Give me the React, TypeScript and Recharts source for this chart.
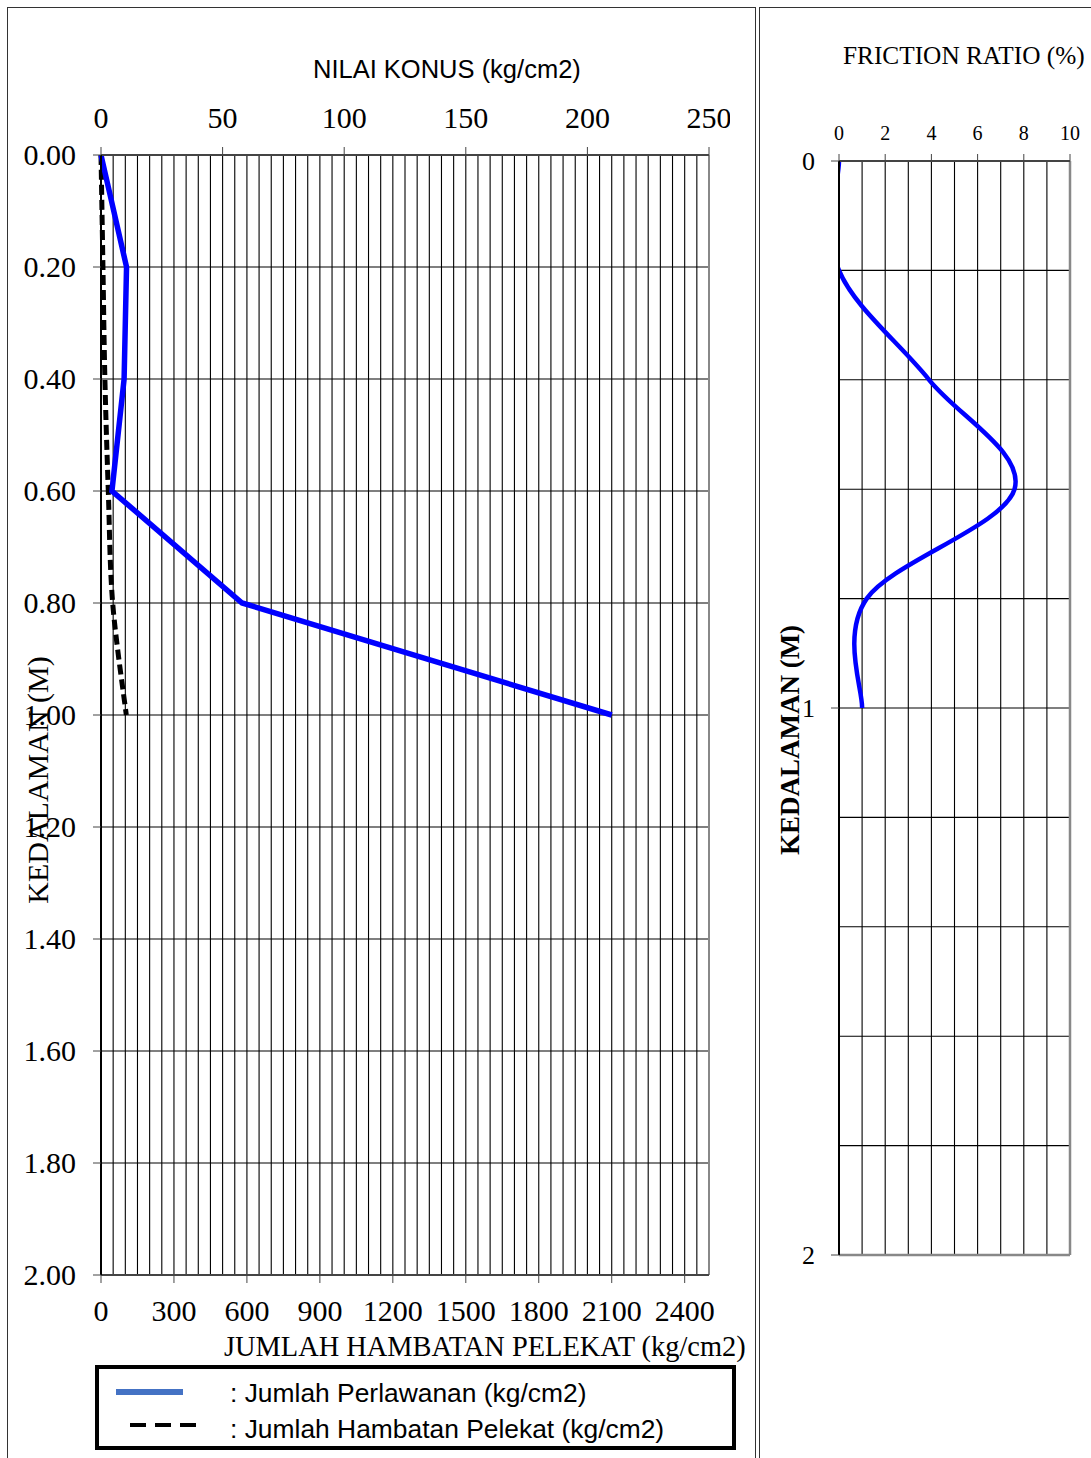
import React from 'react';
import { LineChart, Line, XAxis, YAxis, CartesianGrid, ReferenceLine } from 'recharts';

// sondir readings, every 0.2 m
const depths = [0, 0.2, 0.4, 0.6, 0.8, 1.0];
// nilai konus / jumlah perlawanan (kg/cm2) – top axis
const perlawanan = [0, 10.5, 9.5, 4.5, 58, 210];
// jumlah hambatan pelekat (kg/cm2) – bottom axis
const hambatanPelekat = [0, 8, 16, 30, 48, 104];
// friction ratio (%)
const frictionRatio = [0, 0, 3.9, 7.6, 1.2, 1.0];

// grid columns every 5 kg/cm2, labels every 50
const konusTicks = Array.from({ length: 51 }, (_, i) => i * 5);
const pelekatTicks = [0, 300, 600, 900, 1200, 1500, 1800, 2100, 2400];
const depthTicks = [0, 0.2, 0.4, 0.6, 0.8, 1.0, 1.2, 1.4, 1.6, 1.8, 2.0];
// grid columns every 1 %, labels every 2
const frTicks = [0, 1, 2, 3, 4, 5, 6, 7, 8, 9, 10];

const serif = '"Liberation Serif", "Times New Roman", serif';
const sans = '"Liberation Sans", Arial, sans-serif';

// Catmull-Rom style smoothing (like a spreadsheet "smoothed line")
function smoothCurve(context: any) {
  let pts: [number, number][] = [];
  return {
    areaStart() {},
    areaEnd() {},
    lineStart() {
      pts = [];
    },
    point(x: number, y: number) {
      pts.push([x, y]);
    },
    lineEnd() {
      if (!pts.length) return;
      context.moveTo(pts[0][0], pts[0][1]);
      for (let i = 0; i < pts.length - 1; i++) {
        const p0 = pts[Math.max(i - 1, 0)];
        const p1 = pts[i];
        const p2 = pts[i + 1];
        const p3 = pts[Math.min(i + 2, pts.length - 1)];
        context.bezierCurveTo(
          p1[0] + (p2[0] - p0[0]) / 6,
          p1[1] + (p2[1] - p0[1]) / 6,
          p2[0] - (p3[0] - p1[0]) / 6,
          p2[1] - (p3[1] - p1[1]) / 6,
          p2[0],
          p2[1]
        );
      }
    },
  };
}

type TickOpts = {
  size: number;
  margin: number;
  fontSize: number;
  show?: (v: number) => boolean;
  format?: (v: number) => string;
};

// tick mark + label drawn together so minor grid ticks can stay unlabeled
const makeTick = (side: 'top' | 'bottom' | 'left', o: TickOpts) => (props: any) => {
  const { x, y, payload } = props;
  const v = payload.value as number;
  if (o.show && !o.show(v)) return <g />;
  const label = o.format ? o.format(v) : String(v);
  if (side === 'top') {
    return (
      <g>
        <line x1={x} x2={x} y1={y + o.margin} y2={y + o.margin + o.size} stroke="#444" />
        <text x={x} y={y} textAnchor="middle" fontFamily={serif} fontSize={o.fontSize} fill="#000">{label}</text>
      </g>
    );
  }
  if (side === 'bottom') {
    return (
      <g>
        <line x1={x} x2={x} y1={y - o.margin} y2={y - o.margin - o.size} stroke="#444" />
        <text x={x} y={y} dy="0.72em" textAnchor="middle" fontFamily={serif} fontSize={o.fontSize} fill="#000">{label}</text>
      </g>
    );
  }
  return (
    <g>
      <line x1={x + o.margin} x2={x + o.margin + o.size} y1={y} y2={y} stroke="#444" />
      <text x={x} y={y} dy="0.34em" textAnchor="end" fontFamily={serif} fontSize={o.fontSize} fill="#000">{label}</text>
    </g>
  );
};

const isWhole = (v: number) => Math.abs(v - Math.round(v)) < 1e-6;

const abs = (left: number, top: number, extra: React.CSSProperties = {}): React.CSSProperties => ({
  position: 'absolute',
  left,
  top,
  whiteSpace: 'nowrap',
  lineHeight: 1,
  color: '#000',
  ...extra,
});

export default function App() {
  const rows = depths.map((d, i) => ({
    depth: d,
    perlawanan: perlawanan[i],
    pelekat: hambatanPelekat[i],
    fr: frictionRatio[i],
  }));

  return (
    <div style={{ position: 'absolute', left: 0, top: 0, width: 1091, height: 1458, background: '#fff', overflow: 'hidden' }}>
      {/* table cells */}
      <div style={{ position: 'absolute', left: 7, top: 7, width: 747, height: 1500, borderLeft: '1.5px solid #333', borderTop: '1.5px solid #333', borderRight: '1.5px solid #333' }} />
      <div style={{ position: 'absolute', left: 759, top: 7, width: 400, height: 1500, borderLeft: '1.5px solid #333', borderTop: '1.5px solid #333' }} />

      {/* left panel: cone resistance and total friction */}
      <div style={{ position: 'absolute', left: 0, top: 0 }}>
        <LineChart width={730} height={1340} data={rows} layout="vertical" margin={{ top: 0, right: 21, bottom: 40, left: 0 }}>
          <CartesianGrid xAxisId="konus" stroke="#000" strokeWidth={1.1} />
          <XAxis
            xAxisId="konus"
            orientation="top"
            type="number"
            domain={[0, 250]}
            ticks={konusTicks}
            interval={0}
            height={155}
            tickSize={8}
            tickMargin={19}
            tickLine={false}
            axisLine={{ stroke: '#444', strokeWidth: 2 }}
            tick={makeTick('top', { size: 8, margin: 19, fontSize: 30, show: (v) => v % 50 === 0 })}
          />
          <XAxis
            xAxisId="pelekat"
            orientation="bottom"
            type="number"
            domain={[0, 2500]}
            ticks={pelekatTicks}
            interval={0}
            height={25}
            tickSize={8}
            tickMargin={16}
            tickLine={false}
            axisLine={{ stroke: '#444', strokeWidth: 2 }}
            tick={makeTick('bottom', { size: 8, margin: 16, fontSize: 30 })}
          />
          <YAxis
            type="number"
            dataKey="depth"
            domain={[0, 2]}
            ticks={depthTicks}
            interval={0}
            width={101}
            tickSize={8}
            tickMargin={17}
            tickLine={false}
            axisLine={{ stroke: '#000', strokeWidth: 2 }}
            tick={makeTick('left', { size: 8, margin: 17, fontSize: 30, format: (v) => v.toFixed(2) })}
          />
          <ReferenceLine xAxisId="konus" x={250} stroke="#888" strokeWidth={2} />
          <Line
            xAxisId="pelekat"
            dataKey="pelekat"
            type={smoothCurve as any}
            stroke="#000"
            strokeWidth={5}
            strokeDasharray="10 5"
            dot={false}
            isAnimationActive={false}
          />
          <Line
            xAxisId="konus"
            dataKey="perlawanan"
            type="linear"
            stroke="#0000ff"
            strokeWidth={5.5}
            dot={false}
            isAnimationActive={false}
          />
        </LineChart>
      </div>

      <div style={abs(313, 57, { fontFamily: sans, fontSize: 25.5 })}>NILAI KONUS (kg/cm2)</div>
      <div style={abs(224, 1333, { fontFamily: serif, fontSize: 28.4 })}>JUMLAH HAMBATAN PELEKAT (kg/cm2)</div>
      <div style={abs(38, 780, { fontFamily: serif, fontSize: 30, transform: 'translate(-50%, -50%) rotate(-90deg)' })}>
        KEDALAMAN (M)
      </div>

      {/* legend box */}
      <div style={{ position: 'absolute', left: 95, top: 1365, width: 641, height: 85, border: '4px solid #000', boxSizing: 'border-box' }} />
      <svg style={{ position: 'absolute', left: 0, top: 0 }} width={1091} height={1458} pointerEvents="none">
        <line x1={116} y1={1392} x2={183} y2={1392} stroke="#4472c4" strokeWidth={6} />
        <line x1={130} y1={1425} x2={197} y2={1425} stroke="#000" strokeWidth={4} strokeDasharray="16 9" />
      </svg>
      <div style={abs(230, 1380, { fontFamily: sans, fontSize: 26.4 })}>: Jumlah Perlawanan (kg/cm2)</div>
      <div style={abs(230, 1416, { fontFamily: sans, fontSize: 26.4 })}>: Jumlah Hambatan Pelekat (kg/cm2)</div>

      {/* right panel: friction ratio */}
      <div style={{ position: 'absolute', left: 760, top: 0 }}>
        <LineChart width={331} height={1290} data={rows} layout="vertical" margin={{ top: 0, right: 21, bottom: 35, left: 0 }}>
          <CartesianGrid xAxisId="fr" yAxisId="depth" stroke="#000" strokeWidth={1.1} />
          <XAxis
            xAxisId="fr"
            orientation="top"
            type="number"
            domain={[0, 10]}
            allowDataOverflow
            ticks={frTicks}
            interval={0}
            height={161}
            tickSize={7}
            tickMargin={14}
            tickLine={false}
            axisLine={{ stroke: '#444', strokeWidth: 2 }}
            tick={makeTick('top', { size: 7, margin: 14, fontSize: 20, show: (v) => v % 2 === 0 })}
          />
          <YAxis
            yAxisId="depth"
            type="number"
            dataKey="depth"
            domain={[0, 2]}
            ticks={depthTicks}
            interval={0}
            width={79}
            tickSize={8}
            tickMargin={16}
            tickLine={false}
            axisLine={{ stroke: '#000', strokeWidth: 2 }}
            tick={makeTick('left', { size: 8, margin: 16, fontSize: 26, show: isWhole, format: (v) => String(Math.round(v)) })}
          />
          <ReferenceLine xAxisId="fr" yAxisId="depth" x={10} stroke="#888" strokeWidth={2.5} />
          <ReferenceLine xAxisId="fr" yAxisId="depth" y={2} stroke="#888" strokeWidth={2.5} />
          <Line
            xAxisId="fr"
            yAxisId="depth"
            dataKey="fr"
            type={smoothCurve as any}
            stroke="#0000ff"
            strokeWidth={4.5}
            dot={false}
            isAnimationActive={false}
          />
        </LineChart>
      </div>

      <div style={abs(843, 43, { fontFamily: serif, fontSize: 25.3 })}>FRICTION RATIO (%)</div>
      <div style={abs(790, 740, { fontFamily: serif, fontSize: 27, fontWeight: 'bold', transform: 'translate(-50%, -50%) rotate(-90deg)' })}>
        KEDALAMAN (M)
      </div>
    </div>
  );
}
